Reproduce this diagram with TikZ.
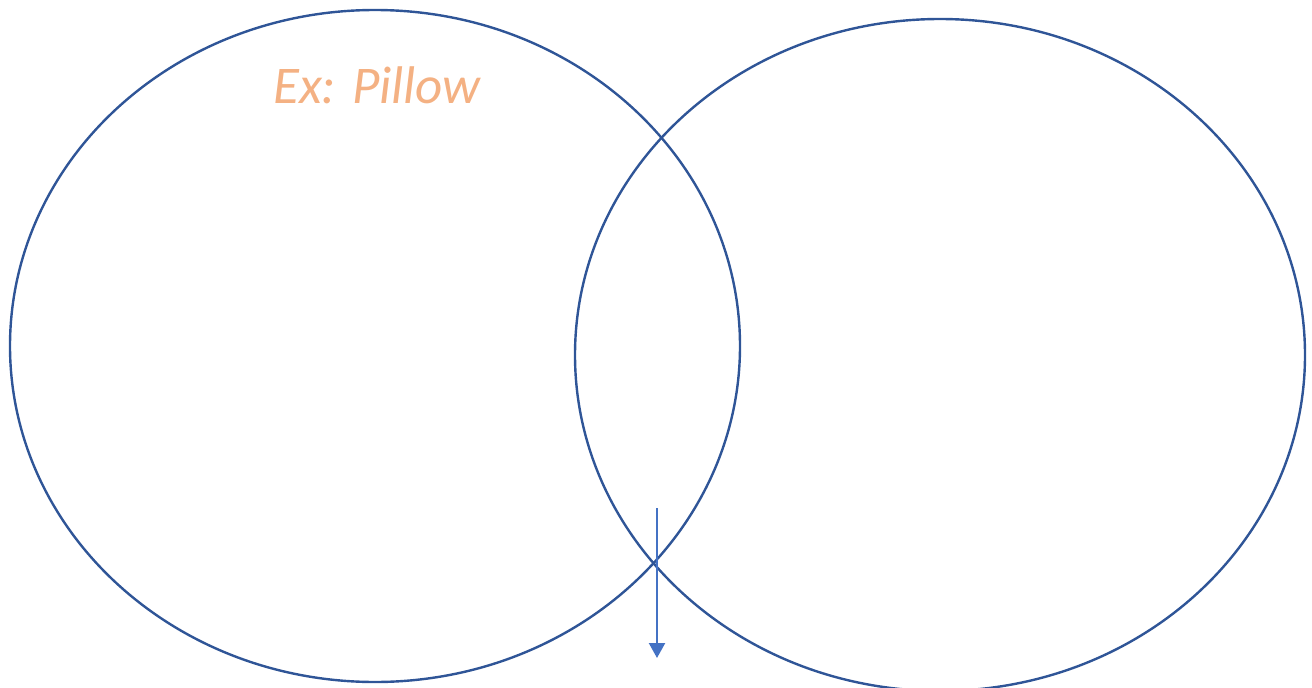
\documentclass[tikz,border=0pt]{standalone}
\usepackage{fontspec}
\setmainfont{Carlito}
\usepackage{tikz}
\usetikzlibrary{arrows.meta,shapes.geometric}
\definecolor{setline}{HTML}{2F5597}
\definecolor{pointer}{HTML}{4472C4}
\definecolor{example}{HTML}{F4B183}

\begin{document}
\begin{tikzpicture}[
  x=1pt, y=-1pt,
  set/.style={draw=setline, line width=2.4pt, ellipse, inner sep=0pt, outer sep=0pt, minimum width=730pt, minimum height=672pt},
  label/.style={text=example, font=\fontsize{53}{60}\selectfont\itshape},
  arrow/.style={-{Triangle[length=15pt, width=16pt]}, line width=2.2pt, draw=pointer}
]
\useasboundingbox (0,0) rectangle (1312,688);
\node[set] (left) at (375,346) {};
\node[set] (right) at (940,355) {};
\node[label, anchor=base] (ex) at (377,103) {Ex: Pillow};
\coordinate (top) at (657,508);
\coordinate (tip) at (657,658);
\draw[arrow] (top) -- (tip);
\end{tikzpicture}
\end{document}
